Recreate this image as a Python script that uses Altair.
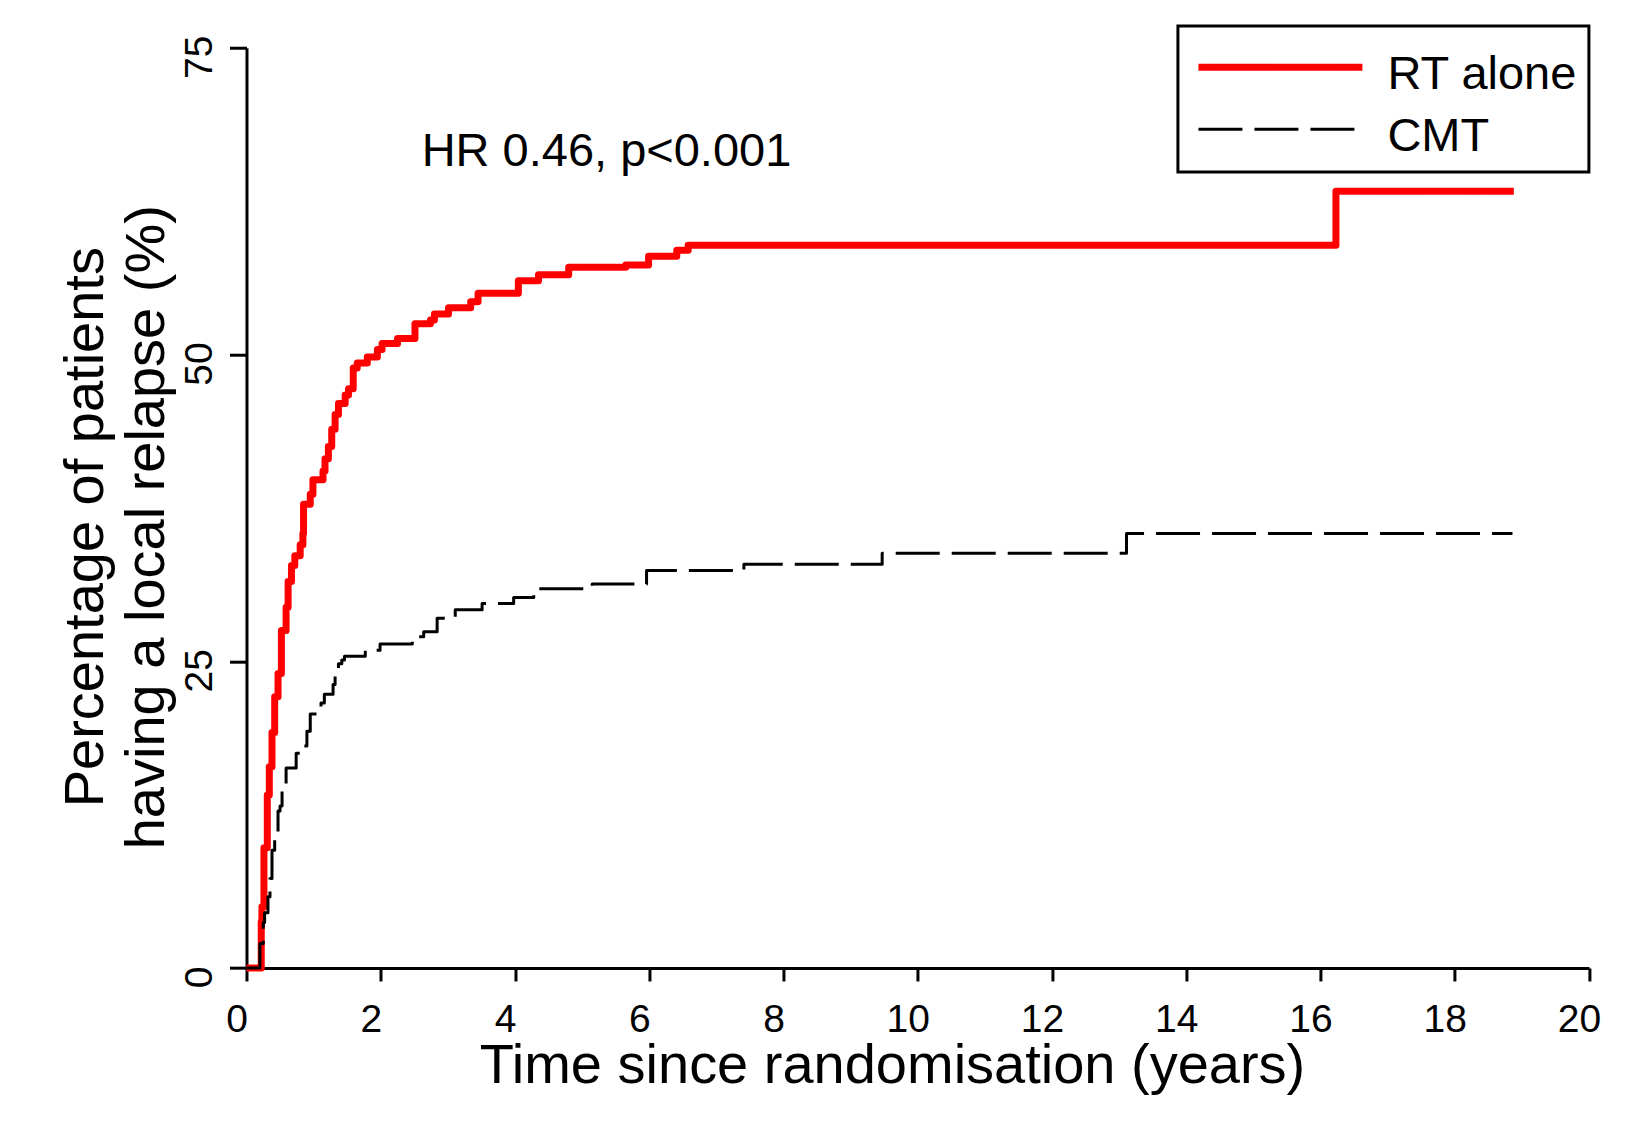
import altair as alt
import pandas as pd

FONT = "Liberation Sans, Arial, Helvetica, sans-serif"

# ---- data ----
series_names = ["RT alone", "CMT"]

rt_time = [0, 0.22, 0.23, 0.26, 0.31, 0.34, 0.38, 0.42, 0.47, 0.52,
           0.59, 0.62, 0.67, 0.72, 0.80, 0.84, 0.85, 0.95, 0.99, 1.14,
           1.17, 1.22, 1.27, 1.32, 1.37, 1.47, 1.52, 1.59, 1.65, 1.80,
           1.95, 2.02, 2.25, 2.51, 2.74, 2.80, 3.01, 3.34, 3.45, 4.05,
           4.35, 4.80, 5.65, 5.99, 6.41, 6.58, 16.23, 18.88]
rt_pct = [0, 3.8, 5.0, 9.8, 14.1, 16.4, 19.2, 22.1, 24.0, 27.5,
          29.4, 31.5, 32.8, 33.6, 34.5, 35.4, 37.8, 38.6, 39.8, 40.5,
          41.5, 42.5, 43.9, 45.1, 46.0, 46.7, 47.2, 48.9, 49.3, 49.8,
          50.4, 50.9, 51.3, 52.5, 52.8, 53.3, 53.8, 54.3, 55.0, 56.0,
          56.5, 57.1, 57.3, 58.0, 58.5, 58.9, 63.3, 63.3]

cmt_time = [0, 0.20, 0.25, 0.27, 0.32, 0.35, 0.38, 0.42, 0.47, 0.50,
            0.53, 0.59, 0.74, 0.84, 0.90, 0.95, 1.05, 1.11, 1.16, 1.29,
            1.32, 1.37, 1.42, 1.46, 1.77, 1.99, 2.47, 2.64, 2.84, 3.11,
            3.51, 3.98, 4.28, 5.15, 5.96, 7.41, 9.47, 13.11, 18.86]
cmt_pct = [0, 2.0, 3.7, 4.5, 5.8, 7.3, 9.6, 11.0, 12.8, 13.2,
           14.7, 16.3, 17.5, 18.1, 19.3, 20.7, 21.0, 21.6, 22.3, 23.1,
           24.2, 24.8, 25.1, 25.4, 25.9, 26.4, 27.0, 27.4, 28.5, 29.2,
           29.7, 30.2, 30.9, 31.3, 32.4, 32.9, 33.8, 35.4, 35.4]

x_ticks = list(range(0, 21, 2))
y_ticks = [0, 25, 50, 75]

annotation_text = ["HR 0.46, p<0.001"]
annotation_x = [2.61]
annotation_y = [65.4]

# ---- tables ----
df = pd.concat([
    pd.DataFrame({"time": rt_time, "pct": rt_pct, "series": series_names[0]}),
    pd.DataFrame({"time": cmt_time, "pct": cmt_pct, "series": series_names[1]}),
], ignore_index=True)
ann = pd.DataFrame({"x": annotation_x, "y": annotation_y, "label": annotation_text})

legend = alt.Legend(
    title=" ", titleFontSize=1, titlePadding=15,
    orient="none", legendX=931.5, legendY=-21.7, direction="vertical",
    symbolType="M -1,-0.1 L 1,-0.1", symbolSize=26896, symbolOffset=5.7,
    labelFontSize=47, labelFont=FONT, labelColor="black", labelOffset=21.5,
    labelBaseline="middle",
    padding=11.3, rowPadding=15, clipHeight=44,
    strokeColor="black", fillColor="white", labelLimit=500,
)

x_axis = alt.Axis(
    values=x_ticks, format="d", grid=False,
    domainColor="black", domainWidth=3, tickColor="black", tickWidth=3, tickSize=13,
    labelFont=FONT, labelFontSize=39, labelColor="black", labelPadding=51,
    labelBaseline="alphabetic", labelOffset=-10, labelFlush=False, labelOverlap=False,
    title="Time since randomisation (years)", titleFont=FONT, titleFontSize=56,
    titleFontWeight="normal", titleColor="black", titleX=645.5, titleY=115,
    titleAlign="center", titleBaseline="alphabetic",
)
y_axis = alt.Axis(
    values=y_ticks, format="d", grid=False,
    domainColor="black", domainWidth=3, tickColor="black", tickWidth=3, tickSize=17,
    labelFont=FONT, labelFontSize=39, labelColor="black", labelAngle=270,
    labelAlign="center", labelBaseline="alphabetic", labelPadding=17.5, labelOffset=9,
    labelFlush=False, labelOverlap=False,
    title=["Percentage of patients", "having a local relapse (%)"],
    titleFont=FONT, titleFontSize=56, titleFontWeight="normal", titleColor="black",
    titleAngle=270, titleX=-143.5, titleY=479, titleAlign="center",
    titleBaseline="alphabetic", titleLineHeight=61,
)

lines = alt.Chart(df).mark_line(
    interpolate="step-after", strokeJoin="round", strokeCap="butt"
).encode(
    x=alt.X("time:Q", scale=alt.Scale(domain=[0, 20], nice=False, zero=False), axis=x_axis),
    y=alt.Y("pct:Q", scale=alt.Scale(domain=[0, 75], nice=False), axis=y_axis),
    color=alt.Color("series:N", scale=alt.Scale(domain=series_names, range=["#ff0000", "#000000"]), legend=legend),
    strokeDash=alt.StrokeDash("series:N", scale=alt.Scale(domain=series_names, range=[[1, 0], [44, 12]]), legend=legend),
    strokeWidth=alt.StrokeWidth("series:N", scale=alt.Scale(type="ordinal", domain=series_names, range=[7, 3]), legend=legend),
)

label = alt.Chart(ann).mark_text(
    align="left", baseline="alphabetic", fontSize=47, font=FONT, color="black"
).encode(x="x:Q", y="y:Q", text="label:N")

chart = alt.layer(lines, label).properties(
    width=1342.6, height=920.3,
    padding={"left": 238.5, "top": 39.7, "right": 40, "bottom": 140},
    autosize=alt.AutoSizeParams(type="none"),
    background="white",
).configure_view(stroke=None).configure_legend(strokeWidth=3)

chart.save("out.html", embed_options={"renderer": "svg", "actions": False})
